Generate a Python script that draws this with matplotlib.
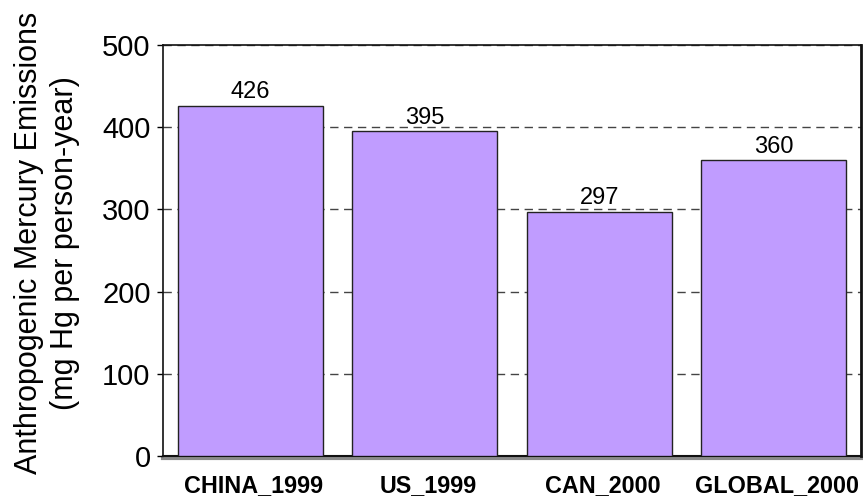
import matplotlib
matplotlib.use("Agg")
import matplotlib.pyplot as plt

categories = ["CHINA_1999", "US_1999", "CAN_2000", "GLOBAL_2000"]
emissions = [426, 395, 297, 360]
yticks = [0, 100, 200, 300, 400, 500]

plt.rcParams["font.family"] = ["Liberation Sans", "DejaVu Sans"]

W, H = 863, 503
fig = plt.figure(figsize=(W / 100, H / 100), dpi=100)
ax = fig.add_axes([163 / W, 1 - 456 / H, (861 - 163) / W, (456 - 45) / H])

x = list(range(len(categories)))
ax.bar(x, emissions, width=0.83, color="#c09cff", edgecolor="#222222",
       linewidth=1.0, zorder=3)

for xi, v in zip(x, emissions):
    ax.text(xi, v + 3, f"{v}", ha="center", va="bottom", fontsize=17, zorder=4)

ax.set_xlim(-0.5, len(categories) - 0.5)
ax.set_ylim(0, 500)
ax.set_yticks(yticks)
ax.set_yticklabels([str(t) for t in yticks], fontsize=21)

ax.set_xticks([xi + 0.02 for xi in x])
ax.set_xticklabels(categories, fontsize=16.8, fontweight="bold")
ax.tick_params(axis="x", length=0, pad=13)
ax.tick_params(axis="y", length=4, width=1, direction="out", pad=5)

ax.yaxis.grid(True, linestyle=(0, (6, 4)), color="#444444", linewidth=1.0, zorder=1)
ax.set_axisbelow(True)

for side in ["left", "top", "right"]:
    ax.spines[side].set_color("#111111")
    ax.spines[side].set_linewidth(1.2)
ax.spines["right"].set_linewidth(2.0)
ax.spines["bottom"].set_color("#111111")
ax.spines["bottom"].set_linewidth(1.5)

# grey floor shadow under the plot area
ax.plot([0, 1], [-0.006, -0.006], transform=ax.transAxes, color="#8a8a8a",
        linewidth=3, clip_on=False, zorder=0)

fig.text(47 / W, 1 - 243 / H,
         "Anthropogenic Mercury Emissions\n(mg Hg per person-year)",
         rotation=90, ha="center", va="center", fontsize=22, linespacing=1.22,
         multialignment="center")

fig.savefig("out.png", dpi=100)
